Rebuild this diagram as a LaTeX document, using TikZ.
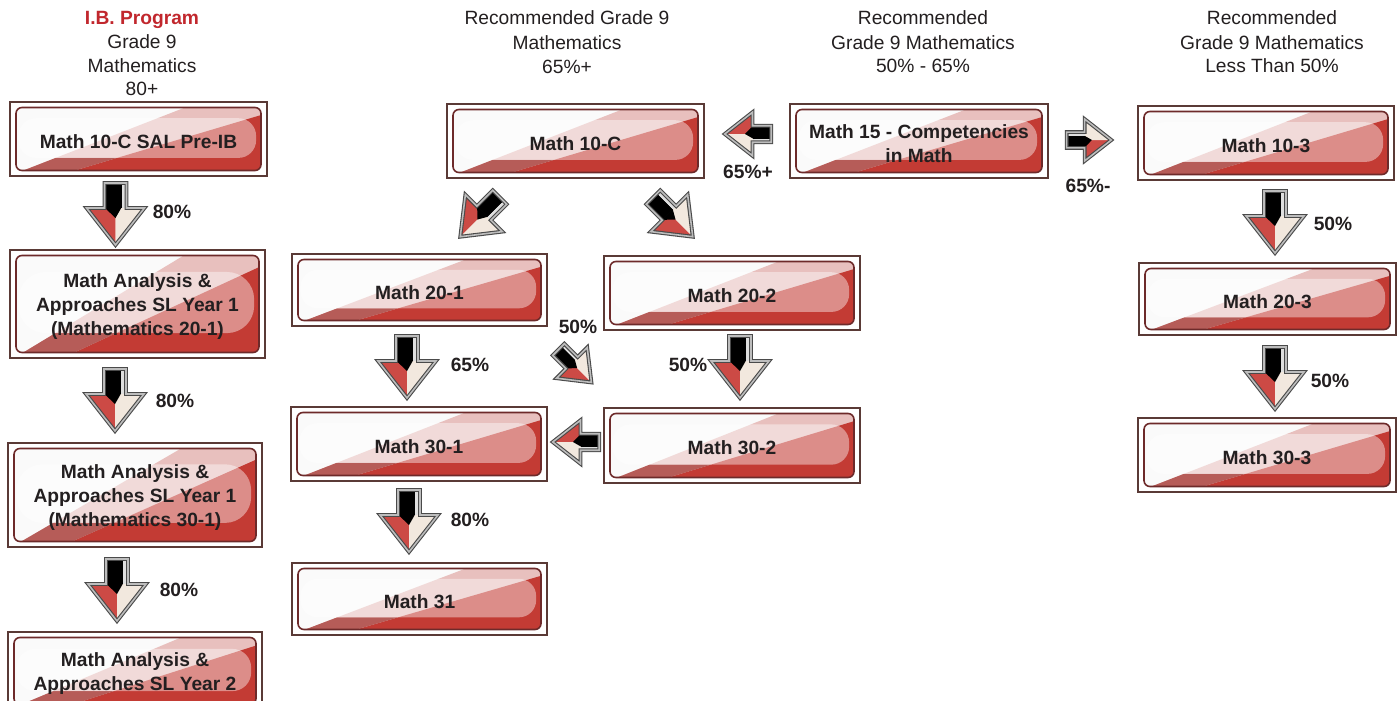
\documentclass[tikz,border=0pt]{standalone}
\usepackage{fontspec}
\setmainfont{Liberation Sans}
\definecolor{framec}{HTML}{5A3A36}
\definecolor{innerc}{HTML}{6D2A2A}
\definecolor{redc}{HTML}{C33B34}
\definecolor{bandc}{HTML}{E8C0BE}
\definecolor{darkband}{HTML}{B65C58}
\definecolor{arred}{HTML}{CC4A45}
\definecolor{cream}{HTML}{F2E8DE}
\definecolor{ibred}{HTML}{C1272D}
\definecolor{txt}{HTML}{231F20}
\definecolor{arredge}{HTML}{4A4A4A}
\definecolor{arrdbl}{HTML}{BDBDBD}
\tikzset{
  frame/.style={draw=framec, line width=2.8pt, fill=white, inner sep=0pt},
  boxtext/.style={font=\bfseries\fontsize{19.2}{24}\selectfont, text=txt, align=center, inner sep=0pt, yshift=-2.5pt},
  lab/.style={font=\bfseries\fontsize{19.2}{22}\selectfont, text=txt, inner sep=0pt},
  hd/.style={font=\fontsize{19.2}{24}\selectfont, text=txt, anchor=base, inner sep=0pt},
  barrow/.pic={
    \fill[arred] (-29,-6) -- (0,-6) -- (0,31) -- cycle;
    \fill[cream] (0,-6) -- (29,-6) -- (0,31) -- cycle;
    \fill[black] (-11,-31) rectangle (6,-6);
    \fill[black] (-11,-6.5) -- (6,-6.5) -- (0,4) -- cycle;
    \fill[gray!25] (6,-31) rectangle (11,-6);
    \draw[draw=arredge, double=arrdbl, double distance=1.6pt, line width=1.1pt, line join=miter]
      (-11,-31) -- (11,-31) -- (11,-6) -- (29,-6) -- (0,31) -- (-29,-6) -- (-11,-6) -- cycle;
  }
}
\newcommand{\gbox}[6]{%
  \node[frame, minimum width=#4pt, minimum height=#5pt] (#1) at (#2,#3) {};
  \begin{scope}[shift={(#2,#3)}]
    \pgfmathsetmacro\hw{#4/2-6}
    \pgfmathsetmacro\hh{#5/2-5.5}
    \pgfmathsetmacro\W{2*\hw}
    \pgfmathsetmacro\H{2*\hh}
    \pgfmathsetmacro\R{0.28*\H}
    \begin{scope}
      \clip[rounded corners=6pt] (-\hw,-\hh) rectangle (\hw,\hh);
      \fill[white!96!gray] (-\hw,-\hh) rectangle (\hw,\hh);
      \fill[bandc] ({-\hw+0.03*\W},\hh) -- ({-\hw+0.69*\W},-\hh) -- (\hw,-\hh) -- (\hw,\hh) -- cycle;
      \fill[redc] ({-\hw+0.24*\W},\hh) -- (\hw,{-\hh+0.12*\H}) -- (\hw,\hh) -- cycle;
      \fill[darkband] ({-\hw+0.03*\W},\hh) -- ({-\hw+0.162*\W},{-\hh+0.8*\H}) -- ({-\hw+0.413*\W},{-\hh+0.8*\H}) -- ({-\hw+0.24*\W},\hh) -- cycle;
      \fill[white, opacity=0.42, rounded corners=\R pt] ({-\hw+0.01*\W},{-\hh+0.17*\H}) rectangle ({\hw-0.02*\W},{-\hh+0.8*\H});
    \end{scope}
    \draw[innerc, line width=1.6pt, rounded corners=6pt] (-\hw,-\hh) rectangle (\hw,\hh);
  \end{scope}
  \node[boxtext] (#1-t) at (#1.center) {#6};
}
\begin{document}
\begin{tikzpicture}[x=1pt,y=-1pt]
\useasboundingbox (0,0) rectangle (1400,701);
\clip (0,0) rectangle (1400,701);
% headers
\node[hd, text=ibred, font=\bfseries\fontsize{19.2}{24}\selectfont] (h1a) at (142,25) {I.B. Program};
\node[hd] (h1b) at (142,48.5) {Grade 9};
\node[hd] (h1c) at (142,72.5) {Mathematics};
\node[hd] (h1d) at (142,95.5) {80+};
\node[hd] (h2a) at (567,25) {Recommended Grade 9};
\node[hd] (h2b) at (567,49.5) {Mathematics};
\node[hd] (h2c) at (567,73.5) {65\%+};
\node[hd] (h3a) at (923,25) {Recommended};
\node[hd] (h3b) at (923,49.5) {Grade 9 Mathematics};
\node[hd] (h3c) at (923,73) {50\% - 65\%};
\node[hd] (h4a) at (1272,25) {Recommended};
\node[hd] (h4b) at (1272,49) {Grade 9 Mathematics};
\node[hd] (h4c) at (1272,72.5) {Less Than 50\%};
% boxes
\gbox{ibA}{138.5}{139}{257}{74}{Math 10-C SAL Pre-IB}
\gbox{ibB}{137.5}{304}{255}{108}{Math Analysis \&\\Approaches SL Year 1\\(Mathematics 20-1)}
\gbox{ibC}{135}{495}{254}{104}{Math Analysis \&\\Approaches SL Year 1\\(Mathematics 30-1)}
\gbox{ibD}{135}{671}{254}{78}{Math Analysis \&\\Approaches SL Year 2}
\gbox{m10c}{575.5}{141}{257}{74}{Math 10-C}
\gbox{m15}{919}{141}{258}{74}{Math 15 - Competencies\\in Math}
\gbox{m103}{1266}{143}{256}{74}{Math 10-3}
\gbox{m201}{419.5}{290}{255}{72}{Math 20-1}
\gbox{m202}{732}{293}{256}{74}{Math 20-2}
\gbox{m301}{419}{444}{256}{74}{Math 30-1}
\gbox{m302}{732}{445.5}{256}{75}{Math 30-2}
\gbox{m31}{419.5}{599}{255}{72}{Math 31}
\gbox{m203}{1267.5}{299}{257}{72}{Math 20-3}
\gbox{m303}{1267}{455}{258}{74}{Math 30-3}
% arrows
\pic (a1) at (115.5,214) {barrow};
\pic (a2) at (115,400) {barrow};
\pic (a3) at (117,590) {barrow};
\pic (a4) at (407,367) {barrow};
\pic (a5) at (740,367) {barrow};
\pic (a6) at (409,521) {barrow};
\pic (a7) at (1275,222) {barrow};
\pic (a8) at (1275,378) {barrow};
\pic[rotate=-45, scale=0.9] (a9) at (480,217) {barrow};
\pic[rotate=45, scale=0.9] (a10) at (673,217) {barrow};
\pic[rotate=45, scale=0.75] (a11) at (575,366) {barrow};
\pic[rotate=-90, scale=0.75] (a12) at (748,134) {barrow};
\pic[rotate=90, scale=0.72] (a13) at (1089,140) {barrow};
\pic[rotate=-90, scale=0.75] (a14) at (576,442) {barrow};
% labels
\node[lab] (l1) at (172,212) {80\%};
\node[lab] (l2) at (175,401) {80\%};
\node[lab] (l3) at (179,590) {80\%};
\node[lab] (l4) at (748,172) {65\%+};
\node[lab] (l5) at (1088,186) {65\%-};
\node[lab] (l6) at (470,365) {65\%};
\node[lab] (l7) at (578,327) {50\%};
\node[lab] (l8) at (688,365) {50\%};
\node[lab] (l9) at (470,520) {80\%};
\node[lab] (l10) at (1333,224) {50\%};
\node[lab] (l11) at (1330,381) {50\%};
\end{tikzpicture}
\end{document}
